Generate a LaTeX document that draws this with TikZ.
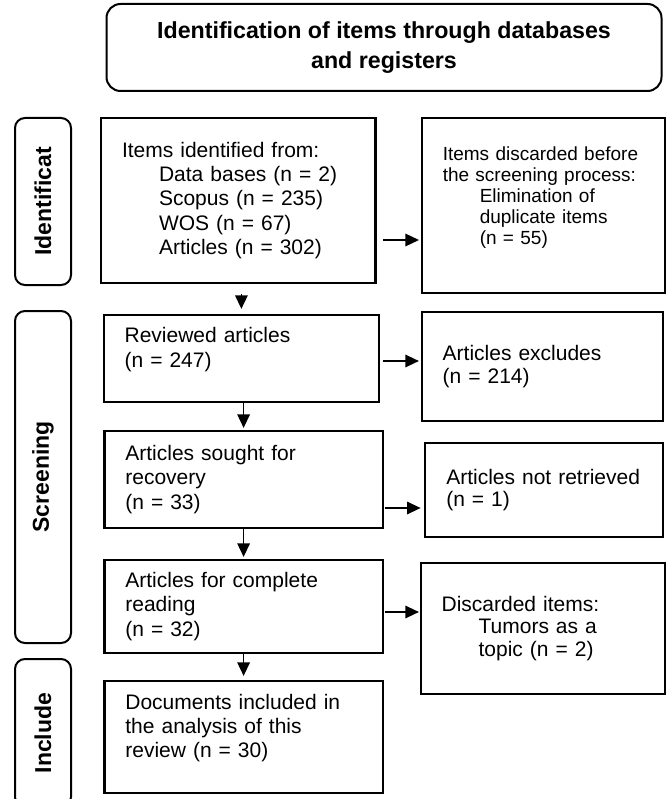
\documentclass[tikz,border=0pt]{standalone}
\usepackage{fontspec}
\setmainfont{Liberation Sans}
\usetikzlibrary{arrows.meta}

\begin{document}
\begin{tikzpicture}[x=1pt,y=1pt,
	box/.style={draw,line width=2.2pt,align=left,inner xsep=21pt,font=\fontsize{21}{24.2}\selectfont},
	rbox/.style={box,font=\fontsize{21}{22.5}\selectfont},
	side/.style={draw,line width=2pt,rounded corners=10pt,rotate=90,minimum height=56pt,font=\bfseries\fontsize{23}{27}\selectfont},
	arrow/.style={line width=1.4pt,-{Triangle[length=13.5pt,width=12.5pt]}}]
			\useasboundingbox (0,0) rectangle (670,-799);
			\node (items) [box,text width=232.5pt,minimum height=165pt] at (238.3,-200.5) {Items identified from:\\ \hspace*{37pt}Data bases (n = 2)\\ \hspace*{37pt}Scopus (n = 235)\\ \hspace*{37pt}WOS (n = 67)\\ \hspace*{37pt}Articles (n = 302)};
			\node (reviewed) [box,text width=233.6pt,minimum height=87pt,node distance=158pt,below of=items,xshift=3.1pt] {Reviewed articles\\ (n = 247)\\[-2pt]\mbox{}};
			\node (recovery) [box,text width=236.4pt,minimum height=97pt,node distance=121pt,below of=reviewed,xshift=2.2pt] {Articles sought for\\ recovery\\ (n = 33)};
			\node (reading) [box,text width=236.4pt,minimum height=93pt,node distance=127pt,below of=recovery] {Articles for complete\\ reading\\ (n = 32)};
			\node (documents) [box,text width=236.4pt,minimum height=112pt,node distance=130.5pt,below of=reading] {Documents included in\\ the analysis of this\\ review (n = 30)\\[-2pt]\mbox{}};
			\node (duplicates) [rbox,font=\fontsize{19}{21}\selectfont,text width=201.5pt,minimum height=175pt,node distance=305.2pt,right of=items,yshift=-5pt] {Items discarded before\\ the screening process:\\ \hspace*{37pt}Elimination of\\ \hspace*{37pt}duplicate items\\ \hspace*{37pt}(n = 55)\\[-2pt]\mbox{}};
			\node (excluded) [rbox,text width=199pt,minimum height=109pt,node distance=300.8pt,right of=reviewed,yshift=-8pt] {Articles excludes\\ (n = 214)};
			\node (notretrieved) [rbox,text width=195.4pt,minimum height=94pt,node distance=300.4pt,right of=recovery,yshift=-10.5pt] {Articles not retrieved\\ (n = 1)};
			\node (discarded) [rbox,text width=202.6pt,minimum height=131pt,node distance=299.3pt,right of=reading,yshift=-22pt] {Discarded items:\\ \hspace*{37pt}Tumors as a\\ \hspace*{37pt}topic (n = 2)};
			\node (title) [draw,line width=2pt,rounded corners=14pt,align=center,minimum width=555pt,minimum height=87pt,font=\bfseries\fontsize{23.2}{30}\selectfont,node distance=153pt,above of=items,xshift=145.7pt] {Identification of items through databases\\ and registers};
			\node (identif) [side,minimum width=167pt] at ([xshift=-195.3pt,yshift=-1pt]items.center) {Identificat};
			\node (screening) [side,minimum width=332pt] at ([yshift=-275.5pt]identif.center) {Screening};
			\node (include) [side,minimum width=148pt] at ([yshift=-256pt]screening.center) {Include};
			\draw [arrow,shorten <=10pt,shorten >=5pt] (reviewed.north |- items.south) -- (reviewed.north);
			\draw [arrow,shorten >=2pt] (recovery.north |- reviewed.south) -- (recovery.north);
			\draw [arrow,shorten >=2pt] (reading.north |- recovery.south) -- (reading.north);
			\draw [arrow,shorten >=4pt] (documents.north |- reading.south) -- (documents.north);
			\draw [arrow,shorten <=6.7pt,shorten >=1.7pt] ([yshift=-39.5pt]items.east) -- ([yshift=-39.5pt]items.east -| duplicates.west);
			\draw [arrow,shorten <=2.5pt,shorten >=1.7pt] ([yshift=-2.5pt]reviewed.east) -- ([yshift=-2.5pt]reviewed.east -| excluded.west);
			\draw [arrow,shorten <=0.7pt,shorten >=3.6pt] ([yshift=-28.5pt]recovery.east) -- ([yshift=-28.5pt]recovery.east -| notretrieved.west);
			\draw [arrow,shorten <=0.7pt,shorten >=0.6pt] ([yshift=-5.5pt]reading.east) -- ([yshift=-5.5pt]reading.east -| discarded.west);
		\end{tikzpicture}
\end{document}
